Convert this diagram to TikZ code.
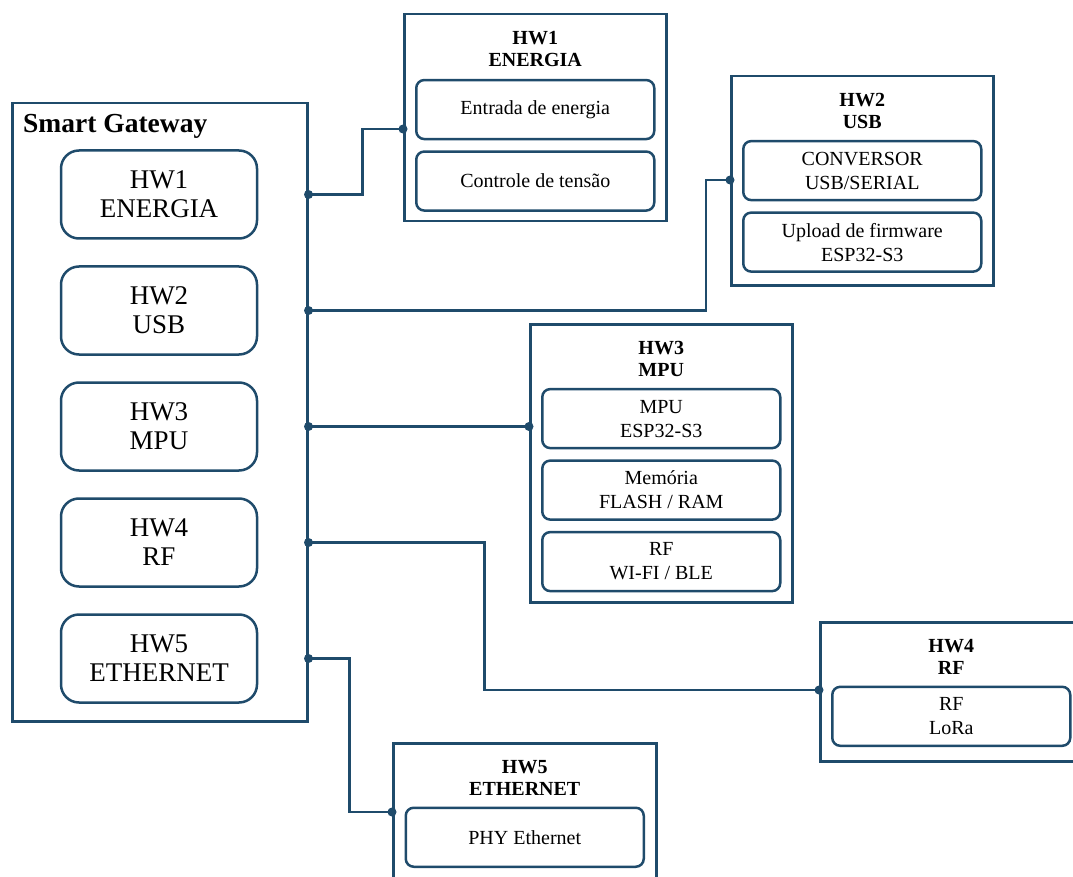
\documentclass[tikz,border=0pt]{standalone}
\usepackage{fontspec}
\setmainfont{Liberation Serif}
\usetikzlibrary{positioning}
\definecolor{hwblue}{RGB}{31,75,107}

\begin{document}
\begin{tikzpicture}[x=1pt, y=-1pt,
    gwframe/.style={draw=hwblue, line width=2.5pt, anchor=north west, inner sep=0pt},
    hwframe/.style={draw=hwblue, line width=2.5pt, anchor=north west, inner sep=0pt, minimum width=262pt},
    gwblock/.style={draw=hwblue, line width=2.5pt, rounded corners=18pt, align=center, inner sep=0pt,
        font=\fontsize{27}{29}\selectfont, minimum width=196pt, minimum height=88pt},
    subblock/.style={draw=hwblue, line width=2.5pt, rounded corners=8pt, align=center, inner sep=0pt,
        font=\fontsize{20}{24}\selectfont, minimum width=238pt, minimum height=59pt},
    hwtitle/.style={align=center, inner sep=0pt, font=\fontsize{20}{22}\selectfont\bfseries},
    link/.style={draw=hwblue, line width=2.5pt}
]
\useasboundingbox (0,0) rectangle (1073,877);
\clip (0,0) rectangle (1073,877);

% Smart Gateway
\node[gwframe, minimum width=295pt, minimum height=618pt] (gw) at (11,102) {};
\node[anchor=west, inner sep=0pt, font=\fontsize{27.5}{29}\selectfont\bfseries] (gwlbl) at (23,126) {Smart Gateway};
\node[gwblock] (hw1) at (159,194.5) {HW1\\ENERGIA};
\node[gwblock, below=25.5pt of hw1] (hw2) {HW2\\USB};
\node[gwblock, below=25.5pt of hw2] (hw3) {HW3\\MPU};
\node[gwblock, below=25.5pt of hw3] (hw4) {HW4\\RF};
\node[gwblock, below=25.5pt of hw4] (hw5) {HW5\\ETHERNET};

% HW1 - energia
\node[hwframe, minimum height=207pt] (f1) at (403,13) {};
\node[hwtitle, below=18pt of f1.north] (t1) {HW1\\ENERGIA};
\node[subblock, below=12pt of t1] (f1a) {Entrada de energia};
\node[subblock, below=10pt of f1a] (f1b) {Controle de tensão};

% HW2 - USB
\node[hwframe, minimum height=209pt] (f2) at (730,75) {};
\node[hwtitle, below=18pt of f2.north] (t2) {HW2\\USB};
\node[subblock, below=11pt of t2] (f2a) {CONVERSOR\\USB/SERIAL};
\node[subblock, below=10pt of f2a] (f2b) {Upload de firmware\\ESP32-S3};

% HW3 - MPU
\node[hwframe, minimum height=278pt] (f3) at (529,323) {};
\node[hwtitle, below=18pt of f3.north] (t3) {HW3\\MPU};
\node[subblock, below=11pt of t3] (f3a) {MPU\\ESP32-S3};
\node[subblock, below=10pt of f3a] (f3b) {Memória\\FLASH / RAM};
\node[subblock, below=10pt of f3b] (f3c) {RF\\WI-FI / BLE};

% HW4 - RF
\node[hwframe, minimum height=139pt] (f4) at (819,621) {};
\node[hwtitle, below=18pt of f4.north] (t4) {HW4\\RF};
\node[subblock, below=11pt of t4] (f4a) {RF\\LoRa};

% HW5 - Ethernet
\node[hwframe, minimum width=263pt, minimum height=160pt] (f5) at (392,742) {};
\node[hwtitle, below=18pt of f5.north] (t5) {HW5\\ETHERNET};
\node[subblock, below=11pt of t5] (f5a) {PHY Ethernet};

% connection points
\coordinate (in1) at (f1.west |- 0,129);
\coordinate (in2) at (f2.west |- 0,180);
\coordinate (in3) at (f3.west |- hw3);
\coordinate (in4) at (f4.west |- 0,690);
\coordinate (in5) at (f5.west |- 0,812);

% links
\draw[link] (gw.east |- hw1) -- ++(54,0) |- (in1);
\draw[link] (gw.east |- hw2) -| ([xshift=-24pt]in2) -- (in2);
\draw[link] (gw.east |- hw3) -- (in3);
\draw[link] (gw.east |- hw4) -- ++(176,0) |- (in4);
\draw[link] (gw.east |- hw5) -- ++(41,0) |- (in5);
\foreach \k in {1,...,5} {
    \fill[hwblue] (gw.east |- hw\k) circle (4.5pt);
    \fill[hwblue] (in\k) circle (4.5pt);
}
\end{tikzpicture}
\end{document}
